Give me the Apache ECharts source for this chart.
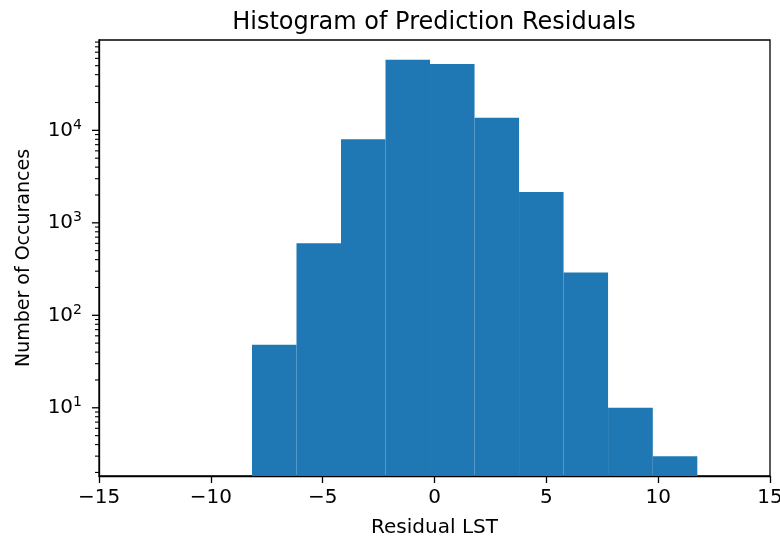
<!DOCTYPE html>
<html>
<head>
<meta charset="utf-8">
<script src="https://cdn.jsdelivr.net/npm/echarts@6/dist/echarts.min.js"></script>
<style>html,body{margin:0;padding:0;background:#fff;}#c{width:780px;height:541px;}</style>
</head>
<body>
<div id="c"></div>
<script>
// Histogram bin edges (Residual LST) and counts per bin
const binEdges = [-8.16, -6.17, -4.18, -2.19, -0.20, 1.79, 3.78, 5.77, 7.76, 9.76, 11.75];
const binCounts = [48, 600, 8000, 57800, 52300, 13700, 2160, 290, 10, 3];
// Axis tick labels / ranges
const xTicks = [-15, -10, -5, 0, 5, 10, 15];
const yMajorTicks = [10, 100, 1000, 10000];
const yMinorTicks = [2,3,4,5,6,7,8,9,20,30,40,50,60,70,80,90,200,300,400,500,600,700,800,900,
                     2000,3000,4000,5000,6000,7000,8000,9000,20000,30000,40000,50000,60000,70000,80000,90000];
const xMin = -15, xMax = 15;
const yMin = 1.83, yMax = 94800;

const FONT = 'DejaVu Sans';
const BLUE = '#1f77b4';

const histData = binCounts.map((c, i) => [binEdges[i], binEdges[i + 1], c]);
const minorData = yMinorTicks.filter(v => v > yMin && v < yMax).map(v => [xMin, v]);

const chart = echarts.init(document.getElementById('c'), null, {renderer: 'canvas'});
chart.setOption({
  animation: false,
  backgroundColor: '#fff',
  title: {
    text: 'Histogram of Prediction Residuals',
    left: 429, top: 6, textAlign: 'center',
    textStyle: {fontFamily: FONT, fontSize: 24, fontWeight: 'normal', color: '#000'}
  },
  grid: {left: 99, top: 40, width: 671, height: 436, show: true, borderColor: '#000', borderWidth: 1.3,
         backgroundColor: 'transparent', outerBoundsMode: 'none', containLabel: false},
  xAxis: {
    type: 'value', min: xMin, max: xMax, interval: 5,
    name: 'Residual LST', nameLocation: 'middle', nameGap: 42,
    nameTextStyle: {fontFamily: FONT, fontSize: 20, color: '#000'},
    axisLine: {show: true, onZero: false, lineStyle: {color: '#000', width: 1.3}},
    axisTick: {show: true, inside: false, length: 7, lineStyle: {color: '#000', width: 1.3}},
    axisLabel: {fontFamily: FONT, fontSize: 20, color: '#000', margin: 12,
      formatter: v => (v < 0 ? '\u2212' + Math.abs(v) : String(v))},
    splitLine: {show: false}
  },
  yAxis: {
    type: 'log', logBase: 10, min: yMin, max: yMax,
    name: 'Number of Occurances', nameLocation: 'middle', nameGap: 65,
    nameTextStyle: {fontFamily: FONT, fontSize: 19, color: '#000'},
    axisLine: {show: true, onZero: false, lineStyle: {color: '#000', width: 1.3}},
    axisTick: {show: false},
    axisLabel: {
      fontFamily: FONT, fontSize: 20, color: '#000', margin: 17,
      showMinLabel: false, showMaxLabel: false,
      formatter: v => {
        const l = Math.log10(v), n = Math.round(l);
        if (Math.abs(l - n) > 1e-6) return '';
        return '{b|10}{s|' + n + '}';
      },
      rich: {
        b: {fontFamily: FONT, fontSize: 20, color: '#000'},
        s: {fontFamily: FONT, fontSize: 14, color: '#000', padding: [0, 0, 10, 0]}
      }
    },
    splitLine: {show: false}
  },
  series: [
    {
      type: 'custom', name: 'hist', clip: true,
      data: histData,
      encode: {x: [0, 1], y: 2},
      renderItem: (params, api) => {
        const p0 = api.coord([api.value(0), api.value(2)]);
        const p1 = api.coord([api.value(1), yMin]);
        return {type: 'rect', shape: {x: p0[0], y: p0[1], width: p1[0] - p0[0], height: p1[1] - p0[1]},
                style: {fill: BLUE}};
      },
      z: 1
    },
    {
      type: 'custom', name: 'minorTicks', clip: false, silent: true,
      data: minorData,
      renderItem: (params, api) => {
        const p = api.coord([api.value(0), api.value(1)]);
        return {type: 'line', shape: {x1: p[0] - 4, y1: p[1], x2: p[0], y2: p[1]},
                style: {stroke: '#000', lineWidth: 1.1}};
      },
      z: 5
    },
    {
      type: 'custom', name: 'majorTicks', clip: false, silent: true,
      data: yMajorTicks.map(v => [xMin, v]),
      renderItem: (params, api) => {
        const p = api.coord([api.value(0), api.value(1)]);
        return {type: 'line', shape: {x1: p[0] - 7, y1: p[1], x2: p[0], y2: p[1]},
                style: {stroke: '#000', lineWidth: 1.3}};
      },
      z: 5
    }
  ]
});
</script>
</body>
</html>
